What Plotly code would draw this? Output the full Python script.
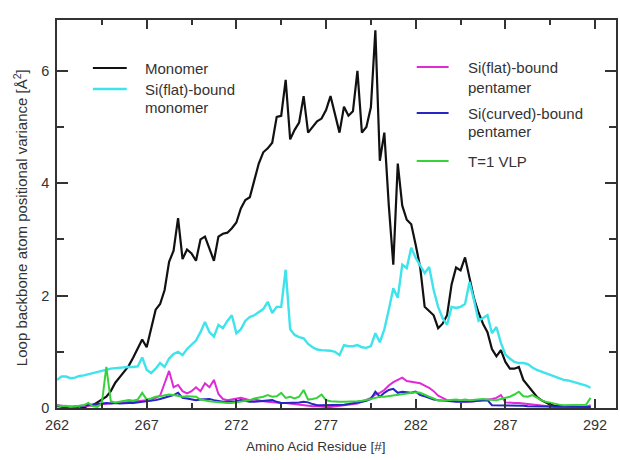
import plotly.graph_objects as go

# Residue positions: four backbone atoms per residue, 262.00 .. 291.75
residues = [262 + i * 0.25 for i in range(120)]

monomer = [
    0.05, 0.02, 0.00, 0.02,
    0.00, 0.03, 0.00, 0.05,
    0.05, 0.10, 0.15, 0.20,
    0.30, 0.45, 0.55, 0.65,
    0.75, 0.90, 1.05, 1.22,
    1.08, 1.40, 1.75, 1.85,
    2.10, 2.60, 2.80, 3.38,
    2.65, 2.82, 2.75, 2.62,
    3.00, 3.05, 2.85, 2.62,
    3.05, 3.10, 3.12, 3.20,
    3.30, 3.55, 3.70, 3.75,
    4.05, 4.35, 4.55, 4.62,
    4.72, 5.18, 5.20, 5.84,
    4.78, 4.95, 5.08, 5.55,
    4.90, 5.00, 5.10, 5.15,
    5.30, 5.55, 5.20, 4.90,
    5.36, 5.20, 5.28, 6.00,
    4.90, 5.00, 5.35, 6.72,
    4.40, 4.90, 3.60, 2.55,
    4.35, 3.60, 3.35, 3.27,
    2.90, 2.50, 1.80, 1.72,
    1.65, 1.42, 1.50, 1.65,
    2.20, 2.50, 2.45, 2.68,
    2.30, 1.95, 1.70, 1.50,
    1.35, 1.05, 0.92, 1.03,
    0.82, 0.70, 0.70, 0.73,
    0.50, 0.40, 0.30, 0.20,
    0.14, 0.10, 0.06, 0.04,
    0.03, 0.02, 0.02, 0.02,
    0.02, 0.02, 0.02, 0.02,
]

si_flat_monomer = [
    0.50, 0.56, 0.56, 0.53,
    0.54, 0.57, 0.58, 0.60,
    0.62, 0.64, 0.67, 0.68,
    0.70, 0.71, 0.72, 0.72,
    0.73, 0.73, 0.74, 0.90,
    0.68, 0.62, 0.70, 0.80,
    0.73, 0.88, 0.96, 1.00,
    0.94, 1.05, 1.12, 1.20,
    1.35, 1.53, 1.35, 1.27,
    1.48, 1.42, 1.55, 1.65,
    1.33, 1.40, 1.55, 1.62,
    1.65, 1.70, 1.76, 1.89,
    1.69, 1.80, 1.80, 2.46,
    1.40, 1.30, 1.26, 1.24,
    1.14, 1.08, 1.04, 1.03,
    1.03, 1.02, 1.00, 0.94,
    1.12, 1.10, 1.10, 1.12,
    1.08, 1.07, 1.10, 1.33,
    1.17, 1.40, 1.75, 2.13,
    1.96, 2.55, 2.49, 2.85,
    2.67, 2.54, 2.40, 2.51,
    2.10, 1.80, 1.60, 1.48,
    1.80, 1.78, 1.80, 1.85,
    2.24, 1.92, 1.55, 1.60,
    1.65, 1.33, 1.44, 1.16,
    0.95, 0.88, 0.82, 0.80,
    0.80, 0.78, 0.72, 0.68,
    0.65, 0.62, 0.58, 0.55,
    0.53, 0.50, 0.49, 0.47,
    0.45, 0.42, 0.40, 0.36,
]

si_flat_pentamer = [
    0.05, 0.04, 0.03, 0.03,
    0.02, 0.03, 0.03, 0.04,
    0.05, 0.06, 0.07, 0.08,
    0.09, 0.09, 0.10, 0.10,
    0.11, 0.12, 0.12, 0.13,
    0.14, 0.14, 0.18, 0.22,
    0.44, 0.66, 0.37, 0.41,
    0.30, 0.26, 0.30, 0.37,
    0.30, 0.44, 0.37, 0.50,
    0.25, 0.16, 0.14, 0.15,
    0.16, 0.18, 0.16, 0.14,
    0.15, 0.13, 0.12, 0.11,
    0.10, 0.10, 0.09, 0.09,
    0.08, 0.06, 0.05, 0.04,
    0.03, 0.03, 0.03, 0.02,
    0.02, 0.02, 0.03, 0.04,
    0.04, 0.05, 0.06, 0.08,
    0.11, 0.14, 0.18, 0.24,
    0.27, 0.32, 0.40, 0.46,
    0.50, 0.54, 0.48, 0.47,
    0.45, 0.44, 0.40, 0.36,
    0.30, 0.22, 0.18, 0.14,
    0.13, 0.12, 0.12, 0.11,
    0.11, 0.12, 0.13, 0.14,
    0.14, 0.16, 0.18, 0.23,
    0.10, 0.09, 0.09, 0.09,
    0.08, 0.07, 0.06, 0.05,
    0.04, 0.03, 0.02, 0.02,
    0.02, 0.02, 0.02, 0.02,
    0.02, 0.02, 0.02, 0.05,
]

si_curved_pentamer = [
    0.03, 0.02, 0.02, 0.02,
    0.03, 0.03, 0.04, 0.05,
    0.06, 0.08, 0.09, 0.09,
    0.08, 0.09, 0.08, 0.09,
    0.09, 0.09, 0.10, 0.10,
    0.11, 0.12, 0.14, 0.16,
    0.18, 0.20, 0.23, 0.27,
    0.18, 0.17, 0.15, 0.14,
    0.15, 0.16, 0.16, 0.14,
    0.12, 0.11, 0.11, 0.11,
    0.12, 0.14, 0.12, 0.11,
    0.11, 0.12, 0.13, 0.13,
    0.14, 0.11, 0.09, 0.09,
    0.09, 0.09, 0.10, 0.11,
    0.10, 0.07, 0.05, 0.05,
    0.05, 0.05, 0.05, 0.05,
    0.06, 0.07, 0.08, 0.09,
    0.11, 0.13, 0.16, 0.29,
    0.20, 0.27, 0.32, 0.34,
    0.27, 0.29, 0.28, 0.27,
    0.29, 0.23, 0.21, 0.18,
    0.15, 0.14, 0.13, 0.12,
    0.11, 0.11, 0.11, 0.11,
    0.12, 0.12, 0.13, 0.14,
    0.14, 0.05, 0.05, 0.05,
    0.05, 0.05, 0.05, 0.05,
    0.04, 0.03, 0.03, 0.03,
    0.03, 0.03, 0.02, 0.02,
    0.02, 0.02, 0.02, 0.02,
    0.02, 0.02, 0.02, 0.02,
]

t1_vlp = [
    0.05, 0.03, 0.04, 0.02,
    0.03, 0.04, 0.05, 0.09,
    0.03, 0.02, 0.08, 0.73,
    0.12, 0.10, 0.11, 0.13,
    0.14, 0.13, 0.15, 0.27,
    0.15, 0.17, 0.20, 0.21,
    0.23, 0.24, 0.23, 0.22,
    0.20, 0.21, 0.20, 0.20,
    0.15, 0.13, 0.12, 0.11,
    0.10, 0.10, 0.09, 0.09,
    0.10, 0.12, 0.13, 0.14,
    0.17, 0.18, 0.20, 0.23,
    0.20, 0.21, 0.27, 0.18,
    0.20, 0.17, 0.20, 0.32,
    0.15, 0.16, 0.18, 0.24,
    0.14, 0.12, 0.11, 0.11,
    0.11, 0.11, 0.11, 0.12,
    0.13, 0.14, 0.16, 0.18,
    0.20, 0.20, 0.21, 0.22,
    0.23, 0.24, 0.26, 0.27,
    0.28, 0.27, 0.23, 0.20,
    0.17, 0.13, 0.13, 0.14,
    0.14, 0.15, 0.14, 0.15,
    0.14, 0.15, 0.16, 0.16,
    0.15, 0.14, 0.14, 0.16,
    0.18, 0.20, 0.24, 0.29,
    0.21, 0.20, 0.23, 0.18,
    0.14, 0.11, 0.09, 0.07,
    0.06, 0.05, 0.05, 0.05,
    0.05, 0.05, 0.06, 0.18,
]

x_tick_vals = [262, 267, 272, 277, 282, 287, 292]
y_tick_vals = [0, 2, 4, 6]

series = [
    ("Monomer", monomer, "#111111", 2.2),
    ("Si(flat)-bound monomer", si_flat_monomer, "#3fe3ec", 2.4),
    ("Si(flat)-bound pentamer", si_flat_pentamer, "#e02ad8", 2.0),
    ("Si(curved)-bound pentamer", si_curved_pentamer, "#2626c4", 2.0),
    ("T=1 VLP", t1_vlp, "#36d23a", 2.0),
]

fig = go.Figure()
for name, ys, color, w in series:
    fig.add_trace(go.Scatter(x=residues, y=ys, mode="lines", name=name,
                             line=dict(color=color, width=w), showlegend=False,
                             hoverinfo="skip"))

FONT = "Liberation Sans, Arial, sans-serif"
TXT = "#333333"

PL, PR, PT, PB = 57, 618, 20, 408
def px(x):
    return (x - PL) / (PR - PL)
def py(y):
    return (PB - y) / (PB - PT)

legend_lines = [
    (93, 127, 68, "#111111", 2.2),
    (93, 127, 89, "#3fe3ec", 2.4),
    (418, 450, 67, "#e02ad8", 2.0),
    (418, 450, 113, "#2626c4", 2.0),
    (418, 450, 161, "#36d23a", 2.0),
]
for x0, x1, y, c, w in legend_lines:
    fig.add_shape(type="line", xref="paper", yref="paper",
                  x0=px(x0), x1=px(x1), y0=py(y), y1=py(y),
                  line=dict(color=c, width=w))

legend_texts = [
    (143, 68, "Monomer"),
    (143, 89, "Si(flat)-bound"),
    (143, 108, "monomer"),
    (467, 67, "Si(flat)-bound"),
    (467, 87, "pentamer"),
    (467, 113, "Si(curved)-bound"),
    (467, 131, "pentamer"),
    (467, 161, "T=1 VLP"),
]
for x, y, t in legend_texts:
    fig.add_annotation(xref="paper", yref="paper", x=px(x), y=py(y), text=t,
                       showarrow=False, xanchor="left", yanchor="middle",
                       font=dict(family=FONT, size=15, color=TXT))

fig.add_annotation(xref="paper", yref="paper", x=px(317), y=py(446),
                   text="Amino Acid Residue [#]", showarrow=False,
                   xanchor="center", yanchor="middle",
                   font=dict(family=FONT, size=13.5, color=TXT))
fig.add_annotation(xref="paper", yref="paper", x=px(20), y=py(218),
                   text="Loop backbone atom positional variance [Å<sup>2</sup>]",
                   showarrow=False, textangle=-90,
                   xanchor="center", yanchor="middle",
                   font=dict(family=FONT, size=15, color=TXT))

fig.update_xaxes(range=[262, 262 + (PR - PL) / 18.0],
                 tickmode="array", tickvals=x_tick_vals,
                 ticktext=[str(v) for v in x_tick_vals],
                 ticks="inside", ticklen=9, tickwidth=1.5, tickcolor="#333",
                 showline=True, linecolor="#333", linewidth=1.5, mirror="ticks",
                 minor=dict(tick0=262, dtick=2.5, ticks="inside", ticklen=5,
                            tickwidth=1.5, tickcolor="#333"),
                 showgrid=False, zeroline=False, ticklabelstandoff=3,
                 tickfont=dict(family=FONT, size=14.5, color=TXT))
fig.update_yaxes(range=[0, (PB - PT) / 56.2],
                 tickmode="array", tickvals=y_tick_vals,
                 ticktext=[str(v) for v in y_tick_vals],
                 ticks="inside", ticklen=11, tickwidth=1.5, tickcolor="#333",
                 showline=True, linecolor="#333", linewidth=1.5, mirror="ticks",
                 minor=dict(tick0=0, dtick=1, ticks="inside", ticklen=7,
                            tickwidth=1.5, tickcolor="#333"),
                 showgrid=False, zeroline=False, ticklabelstandoff=3,
                 tickfont=dict(family=FONT, size=14.5, color=TXT))

fig.update_layout(width=620, height=460,
                  margin=dict(l=PL, r=620 - PR, t=PT, b=460 - PB),
                  paper_bgcolor="white", plot_bgcolor="white",
                  showlegend=False, hovermode=False)

fig.write_html("out.html", config={"displayModeBar": False},
               post_script="document.body.style.margin='0';document.body.style.padding='0';")
